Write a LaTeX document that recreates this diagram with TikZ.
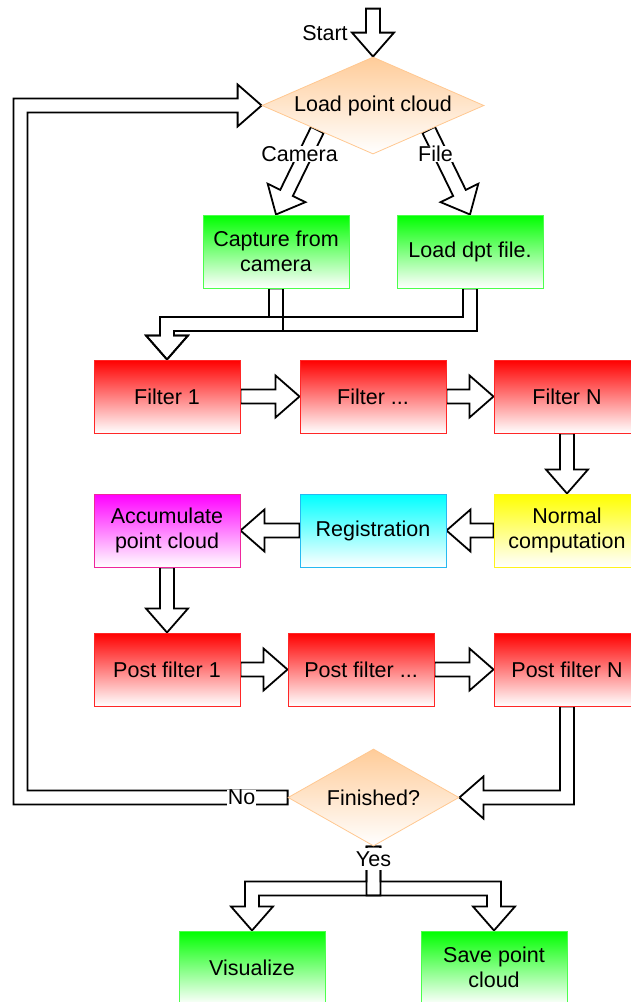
\documentclass[tikz,border=0pt]{standalone}
\usepackage{fontspec}
\setmainfont{Liberation Sans}
\usetikzlibrary{calc,shapes.geometric}

\pgfdeclarelayer{pipes}
\pgfsetlayers{pipes,main}

\definecolor{dorange}{RGB}{255,204,153}
\definecolor{dborder}{RGB}{255,200,145}

% straight hollow arrow from #1 to #2
\newcommand\flexto[2]{%
  \coordinate (fa) at (#1);
  \coordinate (fb) at (#2);
  \coordinate (fh) at ($(fb)!24pt!(fa)$);
  \draw[flex] ($(fa)!7pt!90:(fb)$) -- ($(fh)!7pt!90:(fb)$) -- ($(fh)!21pt!90:(fb)$)
    -- (fb) -- ($(fh)!21pt!-90:(fb)$) -- ($(fh)!7pt!-90:(fb)$) -- ($(fa)!7pt!-90:(fb)$) -- cycle;}

% hollow arrow: down from #1, sideways at the height of #3, down into #2
% #4 = 1 when turning left, -1 when turning right
\newcommand\zflex[4]{%
  \draw[flex] ($(#1)+(-7,0)$) -- ($(#1 |- #3)+(-7,{-7*#4})$) -- ($(#2 |- #3)+(-7,{-7*#4})$)
    -- ($(#2)+(-7,-24)$) -- ($(#2)+(-21,-24)$) -- (#2) -- ($(#2)+(21,-24)$) -- ($(#2)+(7,-24)$)
    -- ($(#2 |- #3)+(7,{7*#4})$) -- ($(#1 |- #3)+(7,{7*#4})$) -- ($(#1)+(7,0)$) -- cycle;}

\tikzset{
  flex/.style={draw=black, line width=1.8pt, line join=miter, fill=none},
  stepbox/.style={rectangle, minimum width=146pt, minimum height=73pt, inner sep=0pt,
    align=center, line width=1pt},
  greenbox/.style={stepbox, draw=green!70!white, top color=green, bottom color=white},
  redbox/.style={stepbox, draw=red!85!white, top color=red, bottom color=white},
  magbox/.style={stepbox, draw=magenta!85!white, top color=magenta, bottom color=white},
  cyanbox/.style={stepbox, draw=cyan!85!white, top color=cyan, bottom color=white},
  yelbox/.style={stepbox, draw=yellow!90!white, top color=yellow, bottom color=white},
  decision/.style={diamond, inner sep=0pt, align=center, draw=dborder, line width=0.8pt,
    top color=dorange, bottom color=white, minimum height=97pt},
  lbl/.style={fill=white, inner sep=0.5pt},
}

\begin{document}
\begin{tikzpicture}[x=1pt, y=-1pt, font=\fontsize{21.5}{25.5}\selectfont]
\useasboundingbox (0,0) rectangle (631,1002);

% decisions and processing steps
\node[decision, aspect=2.29, minimum width=222pt] (load) at (373,105.5) {Load point cloud};
\node[greenbox] (cap) at (276,251.5) {Capture from\\camera};
\node[greenbox] (dpt) at (470,251.5) {Load dpt file.};

\node[redbox] (f1) at (167,396.5) {Filter 1};
\node[redbox] (fd) at (373,396.5) {Filter ...};
\node[redbox] (fN) at (567,396.5) {Filter N};

\node[magbox] (acc) at (167,530.5) {Accumulate\\point cloud};
\node[cyanbox] (reg) at (373,530.5) {Registration};
\node[yelbox] (nrm) at (567,530.5) {Normal\\computation};

\node[redbox] (p1) at (167,669.5) {Post filter 1};
\node[redbox] (pd) at (361,669.5) {Post filter ...};
\node[redbox] (pN) at (567,669.5) {Post filter N};

\node[decision, aspect=1.76, minimum width=171pt] (fin) at (373.5,797.5) {Finished?};

\node[greenbox] (vis) at (252,967.5) {Visualize};
\node[greenbox] (sav) at (494,967.5) {Save point\\cloud};

% helper points for the connectors
\coordinate (start) at ($(load.north)+(0,-48)$);
\coordinate (camtail) at ($(load.west)!0.5!(load.south)$);
\coordinate (filetail) at ($(load.east)!0.5!(load.south)$);
\coordinate (merge) at ($(cap.south)!0.5!(f1.north)$);
\coordinate (split) at ($(fin.south)!0.5!(vis.north)$);
\coordinate (loopx) at (20.5,0);

\begin{pgfonlayer}{pipes}
  \flexto{start}{load.north}
  \flexto{camtail}{cap.north}
  \flexto{filetail}{dpt.north}
  \zflex{cap.south}{f1.north}{merge}{1}
  \zflex{dpt.south}{f1.north}{merge}{1}
  \flexto{f1.east}{fd.west}
  \flexto{fd.east}{fN.west}
  \flexto{fN.south}{nrm.north}
  \flexto{nrm.west}{reg.east}
  \flexto{reg.west}{acc.east}
  \flexto{acc.south}{p1.north}
  \flexto{p1.east}{pd.west}
  \flexto{pd.east}{pN.west}
  % post filter N down and back into the decision
  \draw[flex] ($(pN.south)+(-7,0)$) -- ($(pN.south |- fin.east)+(-7,-7)$) -- ($(fin.east)+(24,-7)$)
    -- ($(fin.east)+(24,-21)$) -- (fin.east) -- ($(fin.east)+(24,21)$) -- ($(fin.east)+(24,7)$)
    -- ($(pN.south |- fin.east)+(7,7)$) -- ($(pN.south)+(7,0)$) -- cycle;
  % loop back to loading
  \draw[flex] ($(fin.west)+(0,-7)$) -- ($(loopx |- fin.west)+(7,-7)$) -- ($(loopx |- load.west)+(7,7)$)
    -- ($(load.west)+(-24,7)$) -- ($(load.west)+(-24,21)$) -- (load.west) -- ($(load.west)+(-24,-21)$)
    -- ($(load.west)+(-24,-7)$) -- ($(loopx |- load.west)+(-7,-7)$) -- ($(loopx |- fin.west)+(-7,7)$)
    -- ($(fin.west)+(0,7)$) -- cycle;
  \zflex{fin.south}{vis.north}{split}{1}
  \zflex{fin.south}{sav.north}{split}{-1}
\end{pgfonlayer}

% connector labels
\node[lbl] (lstart) at ($(start)!0.5!(load.north)+(-48,0)$) {Start};
\node[lbl] (lcam) at ($(camtail)!0.285!(cap.north)+(-6,0)$) {Camera};
\node[lbl] (lfile) at ($(filetail)!0.285!(dpt.north)+(-5,0)$) {File};
\node[lbl] (lno) at ($(fin.west)+(-46,0)$) {No};
\node[lbl, inner ysep=3.5pt] (lyes) at ($(fin.south)+(0,13)$) {Yes};
\end{tikzpicture}
\end{document}
